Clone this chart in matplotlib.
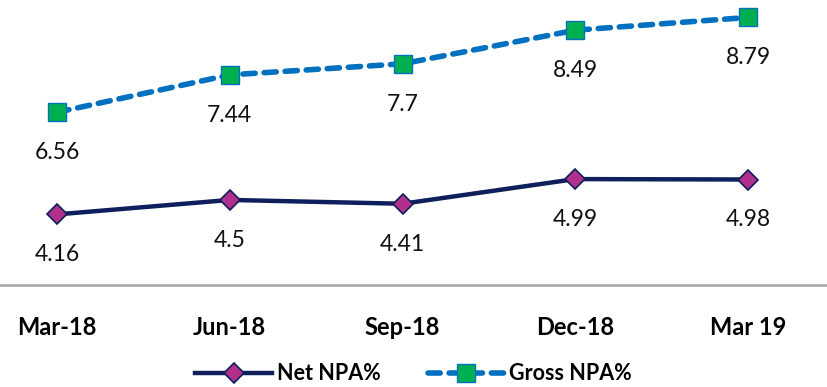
import numpy as np
import matplotlib.pyplot as plt

plt.rcParams['font.family'] = ['Lato', 'DejaVu Sans']

quarters = ["Mar-18", "Jun-18", "Sep-18", "Dec-18", "Mar 19"]
net_npa = [4.16, 4.5, 4.41, 4.99, 4.98]
gross_npa = [6.56, 7.44, 7.7, 8.49, 8.79]

x = np.arange(len(quarters))

fig = plt.figure(figsize=(8.27, 3.87), dpi=100)
ax = fig.add_axes([0, 1 - 285 / 387, 1, 285 / 387])

ax.plot(x, net_npa, color="#0F1F5C", lw=3.2, marker="D", ms=10,
        mfc="#B0308C", mec="#0F1F5C", mew=1.2, label="Net NPA%", zorder=3)
ax.plot(x, gross_npa, color="#0070C0", lw=4, ls=(0, (2.2, 1.6)),
        dash_capstyle="round", marker="s", ms=12.5,
        mfc="#00B050", mec="#0070C0", mew=1.0, label="Gross NPA%", zorder=3)

# value labels under each point
for xi, v in zip(x, net_npa):
    ax.annotate(f"{v:g}", (xi, v), xytext=(0, -29), textcoords="offset points",
                ha="center", va="center", fontsize=16.5, color="#111111")
for xi, v in zip(x, gross_npa):
    ax.annotate(f"{v:g}", (xi, v), xytext=(0, -29), textcoords="offset points",
                ha="center", va="center", fontsize=16.5, color="#111111")

ax.set_xlim(-0.33, 4.457)
ax.set_ylim(2.5, 9.2)
ax.set_yticks([])
ax.set_xticks(x)
ax.set_xticklabels(quarters, fontsize=17, fontweight="bold")
ax.tick_params(axis="x", length=0, pad=22)
for side in ["top", "left", "right"]:
    ax.spines[side].set_visible(False)
ax.spines["bottom"].set_color("#A6A6A6")
ax.spines["bottom"].set_linewidth(1.8)

leg = fig.legend(loc="center", bbox_to_anchor=(0.5, 1 - 374 / 387), ncol=2,
                 frameon=False, handlelength=3.6, columnspacing=2.2,
                 handletextpad=0.2, borderpad=0.1,
                 prop={"size": 15.5, "weight": "bold"})

fig.savefig("out.png", dpi=100)
